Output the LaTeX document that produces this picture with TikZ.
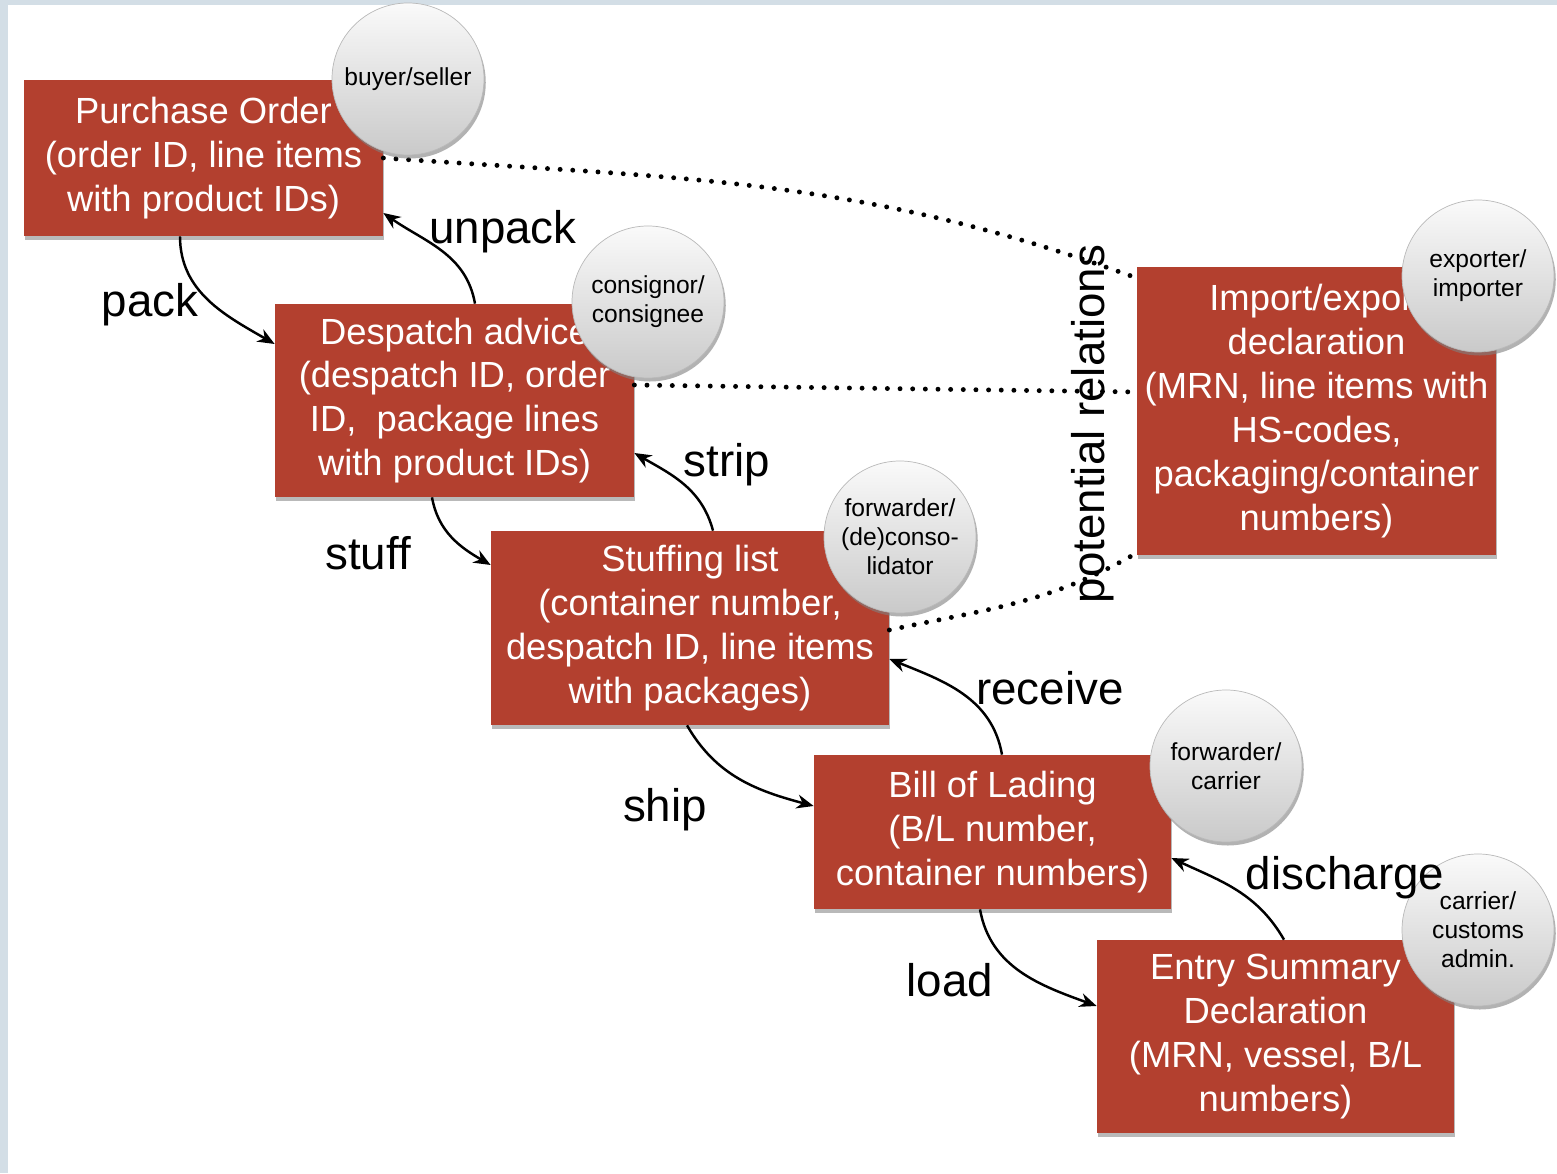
\documentclass[tikz,border=0pt]{standalone}
\usepackage{fontspec}
\setmainfont{Liberation Sans}
\usetikzlibrary{arrows.meta,positioning,shadows}
\definecolor{brickx}{HTML}{B3402F}
\definecolor{framex}{HTML}{D3DEE6}
\tikzset{
  doc/.style={rectangle,fill=brickx,text=white,align=center,inner sep=2pt,
    font=\fontsize{20.7}{25}\selectfont,
    drop shadow={shadow xshift=0.6pt,shadow yshift=-2.2pt,opacity=0.55}},
  role/.style={circle,draw=gray!55,top color=gray!4,bottom color=gray!42,
    minimum size=3.04cm,inner sep=0pt,align=center,font=\fontsize{14}{16.5}\selectfont,
    drop shadow={shadow xshift=1pt,shadow yshift=-2pt,opacity=0.6}},
  ar/.style={-{Stealth[length=3.4mm,width=2.8mm]},line width=1.4pt},
  rel/.style={line width=2.8pt,line cap=round,dash pattern=on 0pt off 7.2pt},
  lbl/.style={font=\fontsize{26}{30}\selectfont,inner sep=0pt}
}
\begin{document}
\begin{tikzpicture}
\useasboundingbox (0,0) rectangle (31.14,23.46);
\fill[framex] (0,0) rectangle (31.14,23.46);
\fill[white] (0.16,0) rectangle (31.14,23.36);
% documents
\node[doc,minimum width=7.18cm,minimum height=3.12cm] (po) at (4.07,20.30) {Purchase Order\\(order ID, line items\\with product IDs)};
\node[doc,minimum width=7.18cm,minimum height=3.86cm] (dsp) at (9.09,15.45) {Despatch advice\\(despatch ID, order\\ID,\ \ package lines\\with product IDs)};
\node[doc,minimum width=7.96cm,minimum height=3.88cm] (stf) at (13.80,10.90) {Stuffing list\\(container number,\\despatch ID, line items\\with packages)};
\node[doc,minimum width=7.14cm,minimum height=3.08cm] (bol) at (19.85,6.82) {Bill of Lading\\(B/L number,\\container numbers)};
\node[doc,minimum width=7.14cm,minimum height=3.86cm] (esd) at (25.51,2.73) {Entry Summary\\Declaration\\(MRN, vessel, B/L\\numbers)};
\node[doc,minimum width=7.18cm,minimum height=5.76cm] (imp) at (26.33,15.24) {Import/export\\declaration\\(MRN, line items with\\HS-codes,\\packaging/container\\numbers)};
% process steps
\draw[ar] ([xshift=-0.47cm]po.south) to[out=-90,in=150] ([yshift=1.13cm]dsp.west);
\draw[ar] ([xshift=0.41cm]dsp.north) to[out=100,in=-35] ([yshift=-1.1cm]po.east);
\draw[ar] ([xshift=-0.45cm]dsp.south) to[out=-80,in=150] ([yshift=1.26cm]stf.west);
\draw[ar] ([xshift=0.46cm]stf.north) to[out=105,in=-30] ([yshift=-1.05cm]dsp.east);
\draw[ar] ([xshift=-0.06cm]stf.south) to[out=-60,in=165] ([yshift=0.52cm]bol.west);
\draw[ar] ([xshift=0.19cm]bol.north) to[out=100,in=-22] ([yshift=-0.62cm]stf.east);
\draw[ar] ([xshift=-0.25cm]bol.south) to[out=-80,in=160] ([yshift=0.61cm]esd.west);
\draw[ar] ([xshift=0.17cm]esd.north) to[out=120,in=-25] ([yshift=-0.52cm]bol.east);
% potential relations
\draw[rel] (po.east) to[out=-4,in=160] ([yshift=2.66cm]imp.west);
\draw[rel] ([yshift=0.31cm]dsp.east) -- ([yshift=0.38cm]imp.west);
\draw[rel] ([yshift=-0.04cm]stf.east) to[out=12,in=-150] ([yshift=-2.84cm]imp.west);
% roles
\node[role] (bs) at (8.16,21.88) {buyer/seller};
\node[role] (cc) at (12.96,17.42) {consignor/\\consignee};
\node[role] (fd) at (18.00,12.72) {forwarder/\\(de)conso-\\lidator};
\node[role] (ei) at (29.56,17.94) {exporter/\\importer};
\node[role] (fc) at (24.52,8.14) {forwarder/\\carrier};
\node[role] (cu) at (29.56,4.86) {carrier/\\customs\\admin.};
% labels
\node[lbl] (lpack) at (3.00,17.36) {pack};
\node[lbl] (lunpack) at (10.06,18.82) {unpack};
\node[lbl] (lstuff) at (7.36,12.40) {stuff};
\node[lbl] (lstrip) at (14.54,14.16) {strip};
\node[lbl] (lship) at (13.30,7.26) {ship};
\node[lbl] (lrecv) at (21.00,9.70) {receive};
\node[lbl] (lload) at (19.00,3.86) {load};
\node[lbl] (ldis) at (26.90,5.90) {discharge};
\node[lbl,rotate=90] (lrel) at (21.86,14.98) {potential relations};
\end{tikzpicture}
\end{document}
